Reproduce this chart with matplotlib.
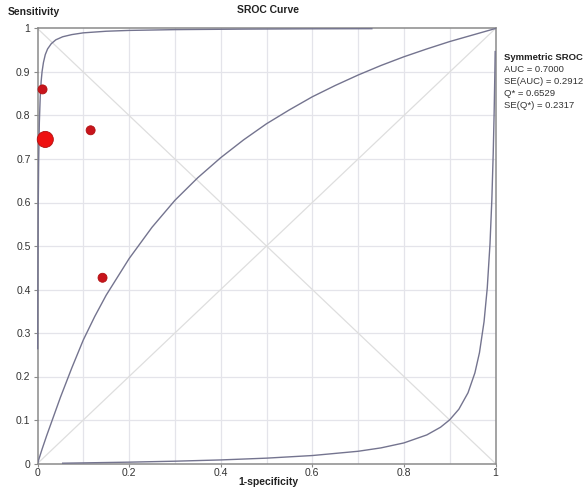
import matplotlib
matplotlib.use("Agg")
import matplotlib.pyplot as plt
import numpy as np

plt.rcParams['font.family'] = ['Liberation Sans', 'DejaVu Sans']

# Study points (1-specificity, sensitivity) and relative study weight
study_fpr = [0.011, 0.017, 0.116, 0.142]
study_tpr = [0.860, 0.745, 0.766, 0.427]
study_weight = [1.0, 3.2, 1.0, 1.0]

# Symmetric SROC curve
sroc_fpr = [0.0, 0.01, 0.02, 0.035, 0.05, 0.075, 0.1, 0.125, 0.15, 0.2, 0.25, 0.3,
            0.35, 0.4, 0.45, 0.5, 0.55, 0.6, 0.65, 0.7, 0.75, 0.8, 0.85, 0.9, 0.95, 1.0]
sroc_tpr = [0.0, 0.033, 0.064, 0.108, 0.152, 0.220, 0.284, 0.338, 0.387, 0.471, 0.543, 0.605,
            0.657, 0.703, 0.744, 0.781, 0.813, 0.843, 0.869, 0.893, 0.915, 0.935, 0.953, 0.970, 0.985, 1.0]

# Upper band curve
upper_fpr = [0.0004, 0.0008, 0.0015, 0.0025, 0.004, 0.006, 0.008, 0.01, 0.013, 0.017, 0.022,
             0.03, 0.04, 0.055, 0.075, 0.1, 0.15, 0.2, 0.3, 0.45, 0.6, 0.73]
upper_tpr = [0.264, 0.418, 0.574, 0.692, 0.783, 0.844, 0.879, 0.901, 0.922, 0.940, 0.953,
             0.965, 0.974, 0.981, 0.986, 0.990, 0.9937, 0.9956, 0.9974, 0.9986, 0.9993, 0.9996]

# Lower band curve
lower_fpr = [0.055, 0.1, 0.2, 0.3, 0.4, 0.5, 0.6, 0.7, 0.75, 0.8, 0.85, 0.88, 0.9, 0.92,
             0.94, 0.955, 0.965, 0.975, 0.982, 0.988, 0.992, 0.995, 0.997, 0.9985, 0.9993]
lower_tpr = [0.0007, 0.0014, 0.0031, 0.0053, 0.0082, 0.0123, 0.0183, 0.0281, 0.0359, 0.0473,
             0.0657, 0.0834, 0.1004, 0.1248, 0.1626, 0.2083, 0.2548, 0.326, 0.4035, 0.505,
             0.606, 0.712, 0.805, 0.892, 0.947]

x_ticks = [0, 0.2, 0.4, 0.6, 0.8, 1]
x_tick_labels = ["0", "0.2", "0.4", "0.6", "0.8", "1"]
y_ticks = [0, 0.1, 0.2, 0.3, 0.4, 0.5, 0.6, 0.7, 0.8, 0.9, 1]
y_tick_labels = ["0", "0.1", "0.2", "0.3", "0.4", "0.5", "0.6", "0.7", "0.8", "0.9", "1"]
grid_steps = [0.1, 0.2, 0.3, 0.4, 0.5, 0.6, 0.7, 0.8, 0.9]

stats_title = "Symmetric SROC"
stats_lines = ["AUC = 0.7000", "SE(AUC) = 0.2912", "Q* = 0.6529", "SE(Q*) = 0.2317"]

fig = plt.figure(figsize=(5.84, 4.88), dpi=100)
ax = fig.add_axes([37.5 / 584, (488 - 463.5) / 488, 458 / 584, 435 / 488])
ax.set_xlim(0, 1)
ax.set_ylim(0, 1)

grid_c = '#e4e4ea'
for g in grid_steps:
    ax.axvline(g, color=grid_c, lw=0.9, zorder=0)
    ax.axhline(g, color=grid_c, lw=0.9, zorder=0)

diag_c = '#dedede'
ax.plot([0, 1], [0, 1], color=diag_c, lw=0.9, zorder=1)
ax.plot([0, 1], [1, 0], color=diag_c, lw=0.9, zorder=1)

curve_c = '#74748f'
ax.plot(sroc_fpr, sroc_tpr, color=curve_c, lw=1.0, zorder=3)
ax.plot(upper_fpr, upper_tpr, color=curve_c, lw=1.0, zorder=3, clip_on=False)
ax.plot(lower_fpr, lower_tpr, color=curve_c, lw=1.0, zorder=3, clip_on=False)

sizes = [42 * w for w in study_weight]
colors = ['#ee1111' if w > 1 else '#c8141c' for w in study_weight]
ax.scatter(study_fpr, study_tpr, s=sizes, c=colors, edgecolors='#b01010',
           linewidths=0.6, zorder=5, clip_on=False)

for side in ['left', 'right', 'top', 'bottom']:
    ax.spines[side].set_color('#8a8a8a')
    ax.spines[side].set_linewidth(1.1)

ax.set_xticks(x_ticks)
ax.set_xticklabels(x_tick_labels)
ax.set_yticks(y_ticks)
ax.set_yticklabels(y_tick_labels)
ax.tick_params(axis='both', labelsize=7.5, colors='#8a8a8a', labelcolor='#333333',
               length=3, width=0.8, pad=2)
ax.tick_params(axis='x', length=2, pad=1)

fig.text(8 / 584, 1 - 12 / 488, "Sensitivity", fontsize=7.5, fontweight='bold',
         color='#222222', ha='left', va='center')
fig.text(268 / 584, 1 - 10 / 488, "SROC Curve", fontsize=7.5, fontweight='bold',
         color='#222222', ha='center', va='center')
fig.text(268 / 584, 1 - 482 / 488, "1-specificity", fontsize=7.5, fontweight='bold',
         color='#222222', ha='center', va='center')

fig.text(504 / 584, 1 - 58 / 488, stats_title, fontsize=6.8, fontweight='bold',
         color='#222222', ha='left', va='center')
for i, line in enumerate(stats_lines):
    fig.text(504 / 584, 1 - (70 + 11.7 * i) / 488, line, fontsize=6.8,
             color='#333333', ha='left', va='center')

fig.savefig("out.png", dpi=100)
